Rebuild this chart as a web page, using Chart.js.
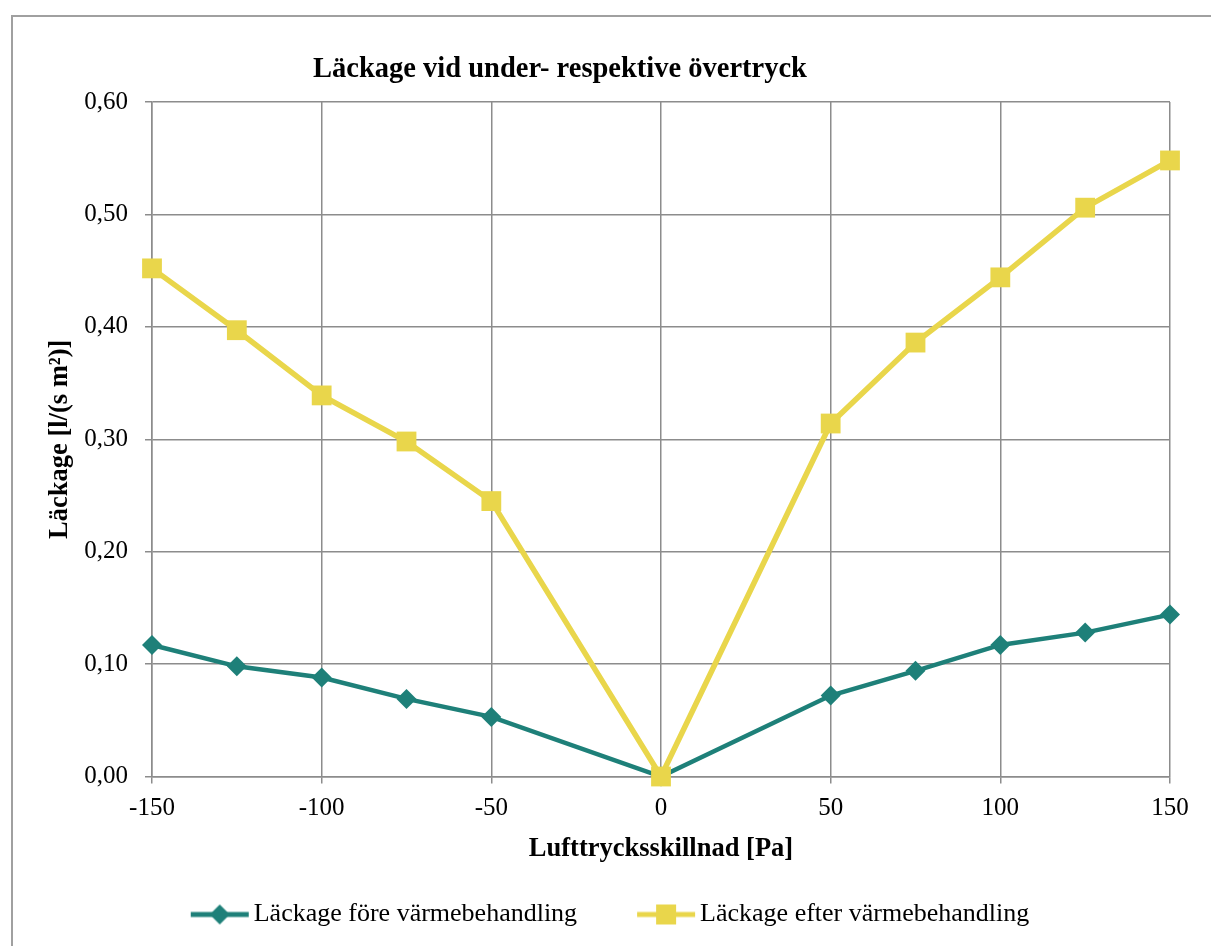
<!DOCTYPE html>
<html>
<head>
<meta charset="utf-8">
<script src="https://cdn.jsdelivr.net/npm/chart.js@4"></script>
<style>
    html, body { margin: 0; padding: 0; background: #fff; overflow: hidden; }
    #frame { position: absolute; left: 11px; top: 15px; width: 1400px; height: 1100px; border: 2px solid #a0a0a0; }
    #chart { position: absolute; left: 0; top: 0; }
</style>
</head>
<body>
<div id="frame"></div>
<canvas id="chart" width="1211" height="946"></canvas>
<script>
const TITLE = 'Läckage vid under- respektive övertryck';
const X_TITLE = 'Lufttrycksskillnad [Pa]';
const Y_TITLE = 'Läckage [l/(s m²)]';

const pressures = [-150, -125, -100, -75, -50, 0, 50, 75, 100, 125, 150];
const leakBefore = [0.117, 0.098, 0.088, 0.069, 0.053, 0, 0.072, 0.094, 0.117, 0.128, 0.144];
const leakAfter = [0.452, 0.397, 0.339, 0.298, 0.245, 0, 0.314, 0.386, 0.444, 0.506, 0.548];

const LABEL_BEFORE = 'Läckage före värmebehandling';
const LABEL_AFTER = 'Läckage efter värmebehandling';

const TEAL = '#1e8079';
const YELLOW = '#e9d64b';
const GRID = '#8c8c8c';
const FONT = "'Liberation Serif', 'Times New Roman', serif";

const toPoints = (values) => pressures.map((p, i) => ({ x: p, y: values[i] }));

// legend symbol: line with marker, drawn into a wide canvas so the gap before the item matches
const legendSymbol = (color, shape) => {
    const c = document.createElement('canvas');
    c.width = 200;
    c.height = 24;
    const g = c.getContext('2d');
    g.strokeStyle = color;
    g.fillStyle = color;
    g.lineWidth = 5;
    g.beginPath();
    g.moveTo(100, 12);
    g.lineTo(158, 12);
    g.stroke();
    g.beginPath();
    if (shape === 'rect') {
        g.rect(129 - 10, 2, 20, 20);
    } else {
        g.moveTo(129 - 10, 12);
        g.lineTo(129, 2);
        g.lineTo(129 + 10, 12);
        g.lineTo(129, 22);
        g.closePath();
    }
    g.fill();
    return c;
};

const titlePlugin = {
    id: 'titlePlugin',
    afterDraw(chart) {
        const ctx = chart.ctx;
        ctx.save();
        ctx.font = `bold 28.5px ${FONT}`;
        ctx.fillStyle = '#000';
        ctx.textAlign = 'center';
        ctx.textBaseline = 'middle';
        ctx.fillText(TITLE, 560, 70);
        ctx.restore();
    }
};

const ctx = document.getElementById('chart').getContext('2d');

new Chart(ctx, {
    type: 'line',
    data: {
        datasets: [
            {
                label: LABEL_AFTER,
                data: toPoints(leakAfter),
                borderColor: YELLOW,
                backgroundColor: YELLOW,
                borderWidth: 5.5,
                pointStyle: 'rect',
                pointRadius: 14,
                pointBorderWidth: 0,
                pointBackgroundColor: YELLOW,
                symbol: legendSymbol(YELLOW, 'rect'),
                clip: false,
                tension: 0
            },
            {
                label: LABEL_BEFORE,
                data: toPoints(leakBefore),
                borderColor: TEAL,
                backgroundColor: TEAL,
                borderWidth: 4.5,
                pointStyle: 'rectRot',
                pointRadius: 10,
                pointBorderWidth: 0,
                pointBackgroundColor: TEAL,
                symbol: legendSymbol(TEAL, 'diamond'),
                clip: false,
                tension: 0
            }
        ]
    },
    options: {
        responsive: false,
        animation: false,
        layout: { padding: { top: 102, right: 41, left: 0, bottom: 8.5 } },
        plugins: {
            title: { display: false },
            tooltip: { enabled: false },
            legend: {
                display: true,
                position: 'bottom',
                reverse: true,
                labels: {
                    usePointStyle: true,
                    pointStyleWidth: 100,
                    padding: 10,
                    color: '#000',
                    font: { family: FONT, size: 26 },
                    generateLabels(chart) {
                        return chart.data.datasets.map((ds, i) => ({
                            text: ds.label,
                            pointStyle: ds.symbol,
                            fillStyle: ds.borderColor,
                            strokeStyle: ds.borderColor,
                            lineWidth: 0,
                            fontColor: '#000',
                            hidden: false,
                            datasetIndex: i
                        }));
                    }
                }
            }
        },
        scales: {
            x: {
                type: 'linear',
                min: -150,
                max: 150,
                afterFit(scale) { scale.height = 115; },
                ticks: {
                    stepSize: 50,
                    color: '#000',
                    padding: 10,
                    maxRotation: 0,
                    font: { family: FONT, size: 25 }
                },
                grid: { color: GRID, lineWidth: 1.5, tickLength: 7 },
                border: { color: GRID, width: 1.5 },
                title: {
                    display: true,
                    text: X_TITLE,
                    color: '#000',
                    padding: { top: 0, bottom: 26 },
                    font: { family: FONT, size: 26.5, weight: 'bold' }
                }
            },
            y: {
                min: 0,
                max: 0.6,
                afterFit(scale) { scale.width = 152; },
                ticks: {
                    stepSize: 0.1,
                    color: '#000',
                    padding: 17,
                    font: { family: FONT, size: 25 },
                    callback: (v) => v.toFixed(2).replace('.', ',')
                },
                grid: { color: GRID, lineWidth: 1.5, tickLength: 7 },
                border: { color: GRID, width: 1.5 },
                title: {
                    display: true,
                    text: Y_TITLE,
                    color: '#000',
                    padding: { top: 44, bottom: 0 },
                    font: { family: FONT, size: 26.5, weight: 'bold' }
                }
            }
        }
    },
    plugins: [titlePlugin]
});
</script>
</body>
</html>
